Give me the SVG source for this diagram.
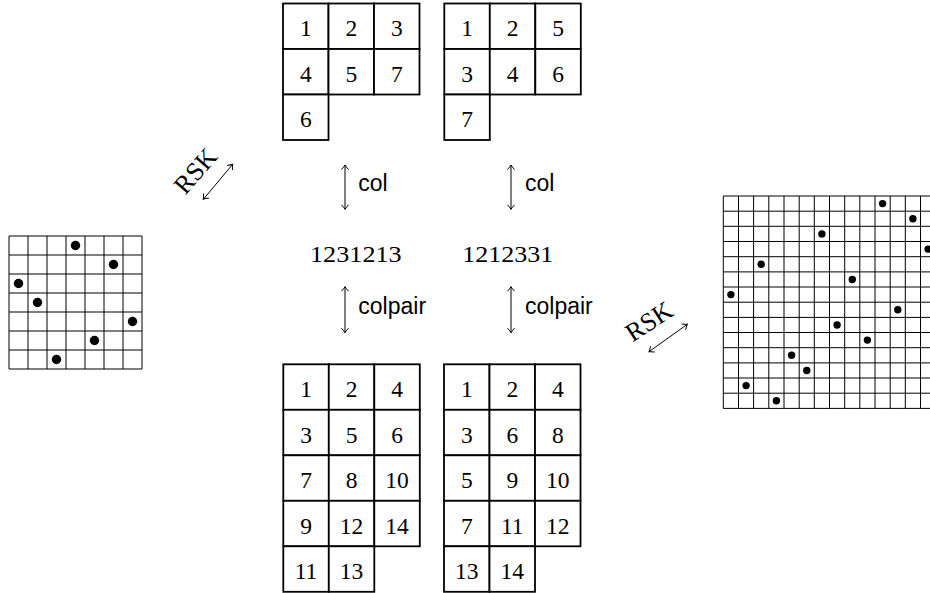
<svg xmlns="http://www.w3.org/2000/svg" width="930" height="593" viewBox="0 0 930 593">
<defs>
<style>
.cell{fill:#fff;stroke:#000;stroke-width:1.8}
.num{font-family:"Liberation Serif",serif;font-size:23.5px;text-anchor:middle;fill:#000}
.word{font-family:"Liberation Serif",serif;font-size:24px;fill:#000}
.rsk{font-family:"Liberation Serif",serif;font-size:26px;fill:#000;text-anchor:middle}
.lbl{font-family:"Liberation Sans",sans-serif;font-size:23px;fill:#000}
.grid{fill:none;stroke:#000;stroke-width:1}
.arr{fill:none;stroke:#000;stroke-width:1;marker-start:url(#ah);marker-end:url(#ah)}
</style>
<marker id="ah" viewBox="-6 -5 8 10" markerWidth="8" markerHeight="10" refX="0" refY="0" orient="auto-start-reverse" markerUnits="userSpaceOnUse">
<path d="M-4.5,-3.5 Q-1.5,-0.8 0,0 Q-1.5,0.8 -4.5,3.5" fill="none" stroke="#000" stroke-width="1"/>
</marker>
</defs>
<rect width="930" height="593" fill="#fff"/>

<g id="perm7">
<path class="grid" d="M9,236V369M28,236V369M47,236V369M66,236V369M85,236V369M104,236V369M123,236V369M142,236V369M9,236H142M9,255H142M9,274H142M9,293H142M9,312H142M9,331H142M9,350H142M9,369H142"/>
<g fill="#000">
<circle cx="75.5" cy="245.5" r="4.7"/><circle cx="113.5" cy="264.5" r="4.7"/><circle cx="18.5" cy="283.5" r="4.7"/><circle cx="37.5" cy="302.5" r="4.7"/><circle cx="132.5" cy="321.5" r="4.7"/><circle cx="94.5" cy="340.5" r="4.7"/><circle cx="56.5" cy="359.5" r="4.7"/>
</g>
</g>

<g id="perm14">
<path class="grid" d="M723.3,196V408.4M738.5,196V408.4M753.6,196V408.4M768.8,196V408.4M784,196V408.4M799.2,196V408.4M814.3,196V408.4M829.5,196V408.4M844.7,196V408.4M859.8,196V408.4M875,196V408.4M890.2,196V408.4M905.3,196V408.4M920.5,196V408.4M935.7,196V408.4M723.3,196H935.7M723.3,211.2H935.7M723.3,226.3H935.7M723.3,241.5H935.7M723.3,256.7H935.7M723.3,271.9H935.7M723.3,287H935.7M723.3,302.2H935.7M723.3,317.4H935.7M723.3,332.5H935.7M723.3,347.7H935.7M723.3,362.9H935.7M723.3,378H935.7M723.3,393.2H935.7M723.3,408.4H935.7"/>
<g fill="#000">
<circle cx="882.6" cy="203.6" r="3.7"/><circle cx="912.9" cy="218.8" r="3.7"/><circle cx="821.9" cy="233.9" r="3.7"/><circle cx="928.1" cy="249.1" r="3.7"/><circle cx="761.2" cy="264.3" r="3.7"/><circle cx="852.3" cy="279.5" r="3.7"/><circle cx="730.9" cy="294.6" r="3.7"/><circle cx="897.8" cy="309.8" r="3.7"/><circle cx="837.1" cy="325" r="3.7"/><circle cx="867.4" cy="340.1" r="3.7"/><circle cx="791.6" cy="355.3" r="3.7"/><circle cx="806.8" cy="370.5" r="3.7"/><circle cx="746.1" cy="385.6" r="3.7"/><circle cx="776.4" cy="400.8" r="3.7"/>
</g>
</g>

<g id="tabTL">
<rect class="cell" x="283" y="3.5" width="45.5" height="45.5"/><rect class="cell" x="328.5" y="3.5" width="45.5" height="45.5"/><rect class="cell" x="374" y="3.5" width="45.5" height="45.5"/>
<rect class="cell" x="283" y="49" width="45.5" height="45.5"/><rect class="cell" x="328.5" y="49" width="45.5" height="45.5"/><rect class="cell" x="374" y="49" width="45.5" height="45.5"/>
<rect class="cell" x="283" y="94.5" width="45.5" height="45.5"/>
<text class="num" x="305.75" y="36">1</text><text class="num" x="351.25" y="36">2</text><text class="num" x="396.75" y="36">3</text>
<text class="num" x="305.75" y="81.5">4</text><text class="num" x="351.25" y="81.5">5</text><text class="num" x="396.75" y="81.5">7</text>
<text class="num" x="305.75" y="127">6</text>
</g>

<g id="tabTR">
<rect class="cell" x="444.3" y="3.5" width="45.5" height="45.5"/><rect class="cell" x="489.8" y="3.5" width="45.5" height="45.5"/><rect class="cell" x="535.3" y="3.5" width="45.5" height="45.5"/>
<rect class="cell" x="444.3" y="49" width="45.5" height="45.5"/><rect class="cell" x="489.8" y="49" width="45.5" height="45.5"/><rect class="cell" x="535.3" y="49" width="45.5" height="45.5"/>
<rect class="cell" x="444.3" y="94.5" width="45.5" height="45.5"/>
<text class="num" x="467.05" y="36">1</text><text class="num" x="512.55" y="36">2</text><text class="num" x="558.05" y="36">5</text>
<text class="num" x="467.05" y="81.5">3</text><text class="num" x="512.55" y="81.5">4</text><text class="num" x="558.05" y="81.5">6</text>
<text class="num" x="467.05" y="127">7</text>
</g>

<g id="tabBL">
<rect class="cell" x="283.3" y="364.3" width="45.5" height="45.5"/><rect class="cell" x="328.8" y="364.3" width="45.5" height="45.5"/><rect class="cell" x="374.3" y="364.3" width="45.5" height="45.5"/>
<rect class="cell" x="283.3" y="409.8" width="45.5" height="45.5"/><rect class="cell" x="328.8" y="409.8" width="45.5" height="45.5"/><rect class="cell" x="374.3" y="409.8" width="45.5" height="45.5"/>
<rect class="cell" x="283.3" y="455.3" width="45.5" height="45.5"/><rect class="cell" x="328.8" y="455.3" width="45.5" height="45.5"/><rect class="cell" x="374.3" y="455.3" width="45.5" height="45.5"/>
<rect class="cell" x="283.3" y="500.8" width="45.5" height="45.5"/><rect class="cell" x="328.8" y="500.8" width="45.5" height="45.5"/><rect class="cell" x="374.3" y="500.8" width="45.5" height="45.5"/>
<rect class="cell" x="283.3" y="546.3" width="45.5" height="45.5"/><rect class="cell" x="328.8" y="546.3" width="45.5" height="45.5"/>
<text class="num" x="306.05" y="397.3">1</text><text class="num" x="351.55" y="397.3">2</text><text class="num" x="397.05" y="397.3">4</text>
<text class="num" x="306.05" y="442.8">3</text><text class="num" x="351.55" y="442.8">5</text><text class="num" x="397.05" y="442.8">6</text>
<text class="num" x="306.05" y="488.3">7</text><text class="num" x="351.55" y="488.3">8</text><text class="num" x="397.05" y="488.3">10</text>
<text class="num" x="306.05" y="533.8">9</text><text class="num" x="351.55" y="533.8">12</text><text class="num" x="397.05" y="533.8">14</text>
<text class="num" x="306.05" y="579.3">11</text><text class="num" x="351.55" y="579.3">13</text>
</g>

<g id="tabBR">
<rect class="cell" x="444" y="364.3" width="45.5" height="45.5"/><rect class="cell" x="489.5" y="364.3" width="45.5" height="45.5"/><rect class="cell" x="535" y="364.3" width="45.5" height="45.5"/>
<rect class="cell" x="444" y="409.8" width="45.5" height="45.5"/><rect class="cell" x="489.5" y="409.8" width="45.5" height="45.5"/><rect class="cell" x="535" y="409.8" width="45.5" height="45.5"/>
<rect class="cell" x="444" y="455.3" width="45.5" height="45.5"/><rect class="cell" x="489.5" y="455.3" width="45.5" height="45.5"/><rect class="cell" x="535" y="455.3" width="45.5" height="45.5"/>
<rect class="cell" x="444" y="500.8" width="45.5" height="45.5"/><rect class="cell" x="489.5" y="500.8" width="45.5" height="45.5"/><rect class="cell" x="535" y="500.8" width="45.5" height="45.5"/>
<rect class="cell" x="444" y="546.3" width="45.5" height="45.5"/><rect class="cell" x="489.5" y="546.3" width="45.5" height="45.5"/>
<text class="num" x="466.75" y="397.3">1</text><text class="num" x="512.25" y="397.3">2</text><text class="num" x="557.75" y="397.3">4</text>
<text class="num" x="466.75" y="442.8">3</text><text class="num" x="512.25" y="442.8">6</text><text class="num" x="557.75" y="442.8">8</text>
<text class="num" x="466.75" y="488.3">5</text><text class="num" x="512.25" y="488.3">9</text><text class="num" x="557.75" y="488.3">10</text>
<text class="num" x="466.75" y="533.8">7</text><text class="num" x="512.25" y="533.8">11</text><text class="num" x="557.75" y="533.8">12</text>
<text class="num" x="466.75" y="579.3">13</text><text class="num" x="512.25" y="579.3">14</text>
</g>

<g id="word1"><text class="word" x="310" y="261.7" textLength="91.7" lengthAdjust="spacingAndGlyphs">1231213</text></g>
<g id="word2"><text class="word" x="462.3" y="261.7" textLength="91" lengthAdjust="spacingAndGlyphs">1212331</text></g>

<g id="connectors">
<line class="arr" x1="345" y1="165" x2="345" y2="209.3"/>
<line class="arr" x1="511" y1="165" x2="511" y2="209.3"/>
<line class="arr" x1="345" y1="286.7" x2="345" y2="332.7"/>
<line class="arr" x1="511" y1="286.7" x2="511" y2="332.7"/>
<line class="arr" x1="203.3" y1="199.3" x2="232.7" y2="164.3"/>
<line class="arr" x1="649" y1="351.7" x2="687.3" y2="324.3"/>
</g>

<g id="labels">
<text class="lbl" x="358.3" y="190.7">col</text>
<text class="lbl" x="525" y="190.7">col</text>
<text class="lbl" x="358.3" y="314">colpair</text>
<text class="lbl" x="525" y="314">colpair</text>
<text class="rsk" transform="translate(195.5,171) rotate(-49)" y="8.5">RSK</text>
<text class="rsk" transform="translate(649,321.5) rotate(-33)" y="8.5">RSK</text>
</g>
</svg>
